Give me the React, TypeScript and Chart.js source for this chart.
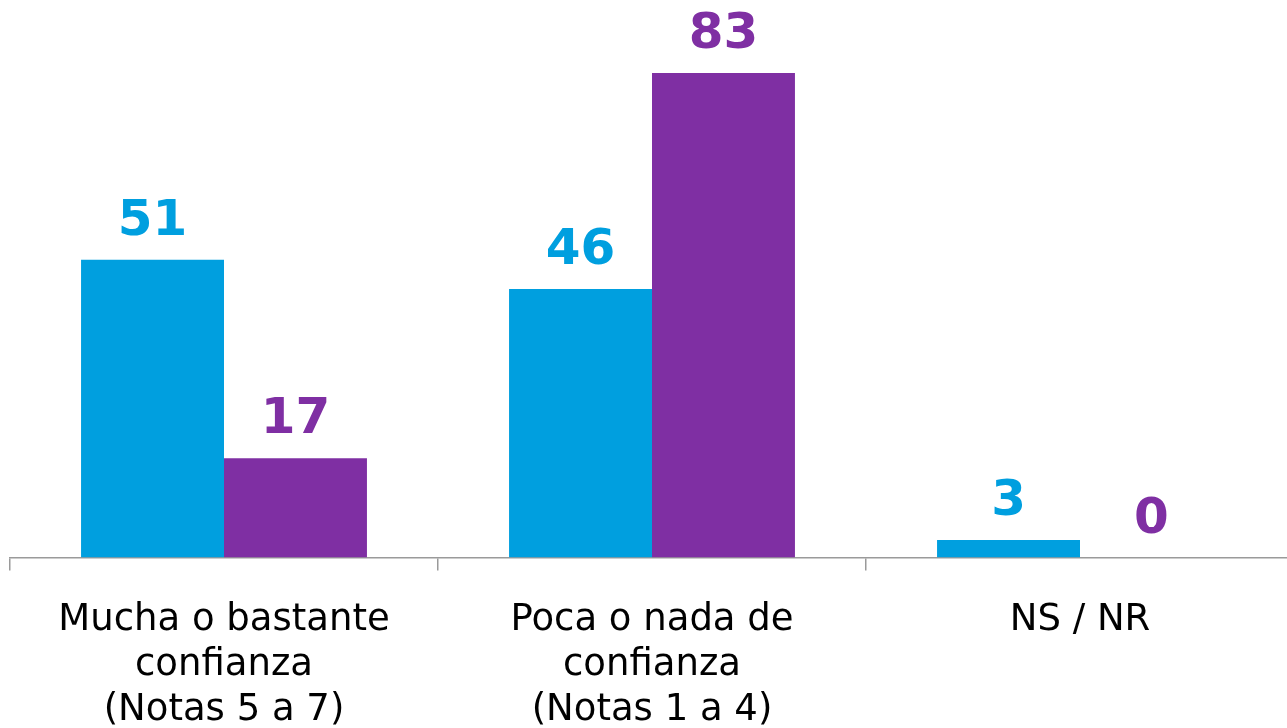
import React, { useEffect, useRef } from "react";
import { Chart, registerables } from "chart.js";

Chart.register(...registerables);

const categories: string[][] = [
  ["Mucha o bastante", "confianza", "(Notas 5 a 7)"],
  ["Poca o nada de", "confianza", "(Notas 1 a 4)"],
  ["NS / NR"],
];
const seriesA: number[] = [51, 46, 3];
const seriesB: number[] = [17, 83, 0];
const colorA = "#009FDF";
const colorB = "#7F2FA3";

const valueLabels = {
  id: "valueLabels",
  afterDatasetsDraw(chart: any) {
    const ctx = chart.ctx;
    ctx.save();
    ctx.font = "bold 50px 'DejaVu Sans'";
    ctx.textAlign = "center";
    ctx.textBaseline = "alphabetic";
    chart.data.datasets.forEach((ds: any, i: number) => {
      const meta = chart.getDatasetMeta(i);
      ctx.fillStyle = ds.backgroundColor;
      meta.data.forEach((bar: any, j: number) => {
        ctx.fillText(String(ds.data[j]), bar.x, bar.y - 25);
      });
    });
    ctx.restore();
  },
};

export default function App() {
  const ref = useRef<HTMLCanvasElement | null>(null);
  useEffect(() => {
    document.body.style.margin = "0";
    document.body.style.overflow = "hidden";
    const chart = new Chart(ref.current!, {
      type: "bar",
      data: {
        labels: categories,
        datasets: [
          { data: seriesA, backgroundColor: colorA, categoryPercentage: 0.668, barPercentage: 1 },
          { data: seriesB, backgroundColor: colorB, categoryPercentage: 0.668, barPercentage: 1 },
        ],
      },
      options: {
        animation: false,
        responsive: false,
        maintainAspectRatio: false,
        layout: { padding: { left: 10, right: 0, top: 32, bottom: 0 } },
        plugins: { legend: { display: false }, tooltip: { enabled: false } },
        scales: {
          x: {
            offset: true,
            grid: {
              offset: true,
              drawOnChartArea: false,
              drawTicks: true,
              tickLength: 13,
              color: "#9A9A9A",
              lineWidth: 1.5,
            },
            border: { display: true, color: "#9A9A9A", width: 1.5 },
            ticks: {
              color: "#000000",
              font: { family: "'DejaVu Sans'", size: 37, lineHeight: 1.22 },
              padding: 27,
              maxRotation: 0,
              autoSkip: false,
            },
          },
          y: {
            display: false,
            min: 0,
            max: 90,
          },
        },
      },
      plugins: [valueLabels],
    });
    return () => chart.destroy();
  }, []);
  return (
    <div style={{ position: "fixed", left: 0, top: 0, width: 1294, height: 760 }}>
      <canvas ref={ref} width={1294} height={760} />
    </div>
  );
}
